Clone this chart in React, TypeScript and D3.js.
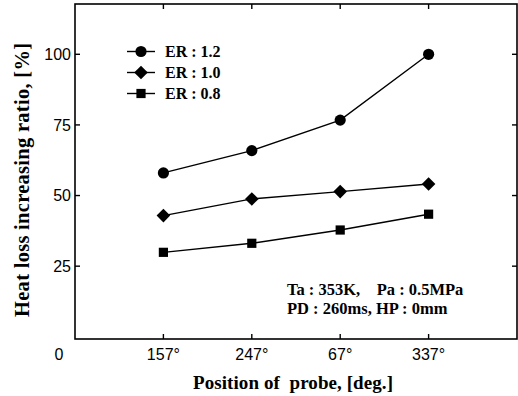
import React from "react";
import * as d3 from "d3";

const categories = ["157°", "247°", "67°", "337°"];
const er12 = [58.0, 65.9, 76.7, 100.0];
const er10 = [42.9, 48.8, 51.4, 54.1];
const er08 = [29.9, 33.1, 37.8, 43.4];
const yTicks = [25, 50, 75, 100];
const seriesNames = ["ER : 1.2", "ER : 1.0", "ER : 0.8"];
const annotation = ["Ta : 353K,    Pa : 0.5MPa", "PD : 260ms, HP : 0mm"];

const W = 518, H = 396;
const L = 75, R = 517, T = 4, B = 339;
const serif = "'Liberation Serif', 'Times New Roman', serif";
const sans = "'Liberation Sans', Arial, sans-serif";

function Marker({ kind, x, y }: { kind: string; x: number; y: number }) {
  if (kind === "circle") return <circle cx={x} cy={y} r={5.6} fill="#000" />;
  if (kind === "diamond") {
    const s = 6.8;
    return <path d={`M${x},${y - s}L${x + s},${y}L${x},${y + s}L${x - s},${y}Z`} fill="#000" />;
  }
  return <rect x={x - 4.6} y={y - 4.6} width={9.2} height={9.2} fill="#000" />;
}

export default function App() {
  const x = d3.scalePoint<string>().domain(categories).range([L, R]).padding(1);
  const y = d3.scaleLinear().domain([-0.78, 117.8]).range([B, T]);
  const line = d3
    .line<number>()
    .x((_, i) => x(categories[i]) as number)
    .y((d) => y(d));
  const series = [
    { data: er12, kind: "circle" },
    { data: er10, kind: "diamond" },
    { data: er08, kind: "square" },
  ];
  const tl = 5;
  return (
    <svg width={W} height={H} style={{ position: "absolute", left: 0, top: 0, background: "#fff" }}>
      <rect x={0} y={0} width={W} height={H} fill="#fff" />
      {/* frame */}
      <rect x={L} y={T} width={R - L} height={B - T} fill="none" stroke="#000" strokeWidth={1.6} />
      {/* ticks */}
      {categories.map((c) => (
        <g key={c}>
          <line x1={x(c)} x2={x(c)} y1={B} y2={B - tl} stroke="#000" strokeWidth={1.4} />
          <line x1={x(c)} x2={x(c)} y1={T} y2={T + tl} stroke="#000" strokeWidth={1.4} />
          <text x={x(c)} y={360} textAnchor="middle" fontFamily={sans} fontSize={16}>
            {c}
          </text>
        </g>
      ))}
      {yTicks.map((t) => (
        <g key={t}>
          <line x1={L} x2={L + tl} y1={y(t)} y2={y(t)} stroke="#000" strokeWidth={1.4} />
          <line x1={R} x2={R - tl} y1={y(t)} y2={y(t)} stroke="#000" strokeWidth={1.4} />
          <text x={71} y={y(t)} dy="0.36em" textAnchor="end" fontFamily={sans} fontSize={16}>
            {t}
          </text>
        </g>
      ))}
      <text x={59} y={360} textAnchor="middle" fontFamily={sans} fontSize={16}>
        0
      </text>
      {/* series */}
      {series.map((s, si) => (
        <g key={si}>
          <path d={line(s.data) || ""} fill="none" stroke="#000" strokeWidth={1.4} />
          {s.data.map((v, i) => (
            <Marker key={i} kind={s.kind} x={x(categories[i]) as number} y={y(v)} />
          ))}
        </g>
      ))}
      {/* legend */}
      {series.map((s, si) => {
        const ly = 51.5 + si * 21;
        return (
          <g key={"lg" + si}>
            <line x1={127} x2={155} y1={ly} y2={ly} stroke="#000" strokeWidth={1.4} />
            <Marker kind={s.kind} x={141} y={ly} />
            <text x={165} y={ly} dy="0.35em" fontFamily={serif} fontWeight="bold" fontSize={16}>
              {seriesNames[si]}
            </text>
          </g>
        );
      })}
      {/* annotation */}
      {annotation.map((a, i) => (
        <text key={a} x={287} y={295 + i * 18.5} fontFamily={serif} fontWeight="bold" fontSize={16.5} style={{ whiteSpace: "pre" }}>
          {a}
        </text>
      ))}
      {/* axis titles */}
      <text x={293} y={389} textAnchor="middle" fontFamily={serif} fontWeight="bold" fontSize={19} textLength={200} lengthAdjust="spacing" style={{ whiteSpace: "pre" }}>
        {"Position of  probe, [deg.]"}
      </text>
      <text
        transform={`translate(29,180) rotate(-90)`}
        textAnchor="middle"
        fontFamily={serif}
        fontWeight="bold"
        fontSize={20.5}
        textLength={274}
        lengthAdjust="spacing"
      >
        Heat loss increasing ratio, [%]
      </text>
    </svg>
  );
}
